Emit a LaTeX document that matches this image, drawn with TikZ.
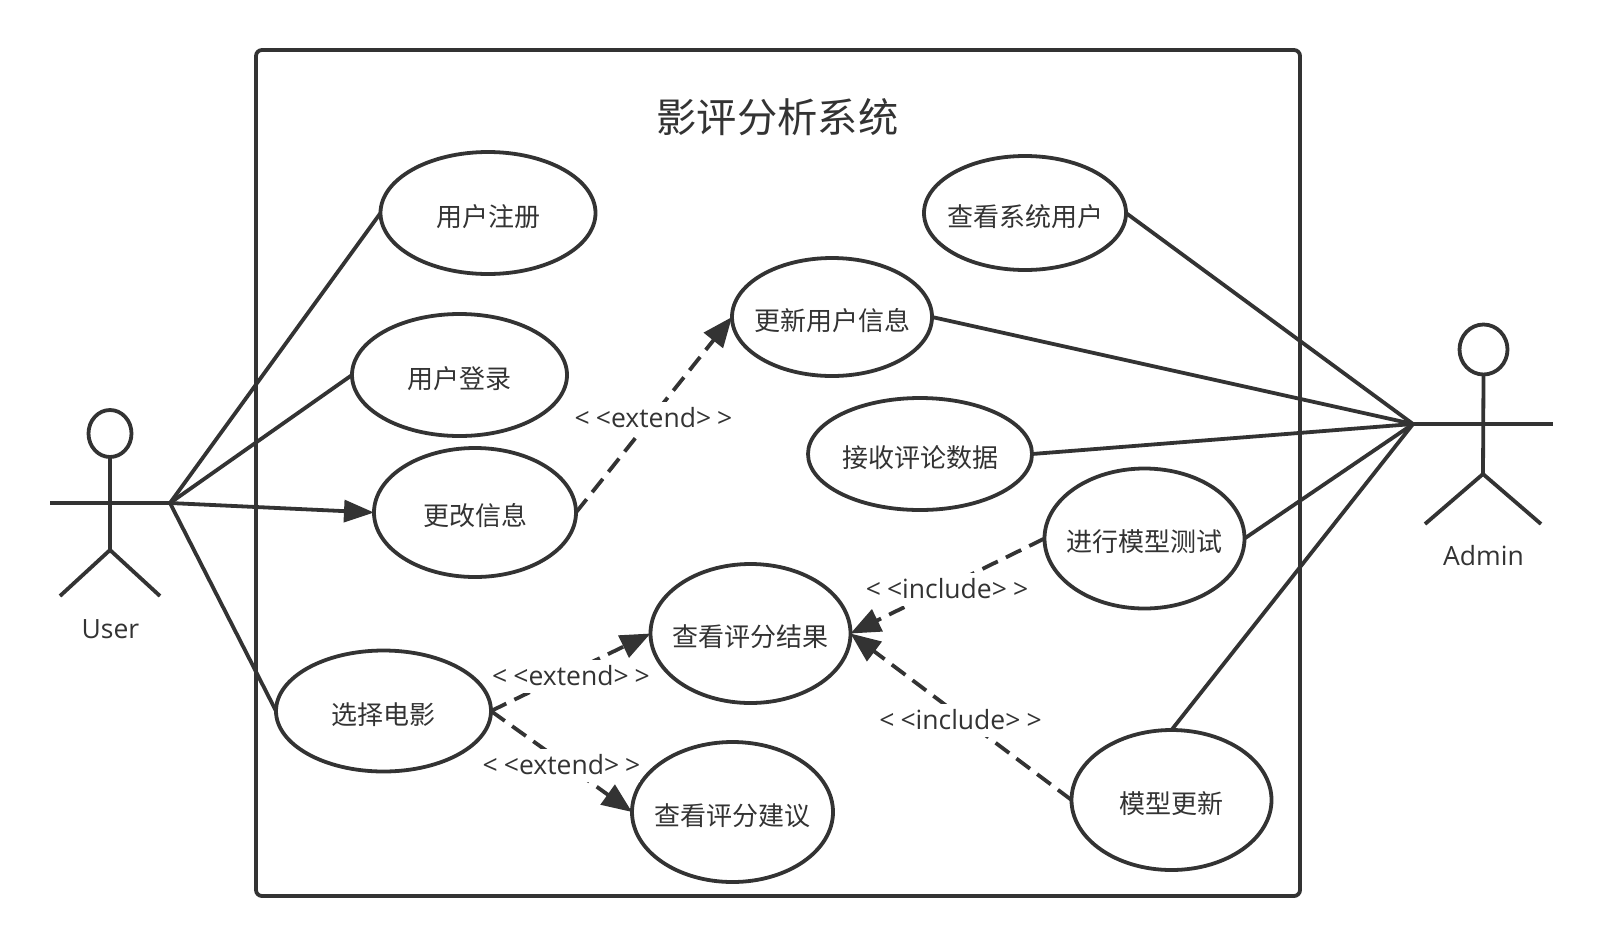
\documentclass[tikz,border=0pt]{standalone}
\usepackage{fontspec}
\setmainfont{Open Sans}
\newfontfamily\cjk{Noto Sans CJK SC}
\usetikzlibrary{arrows.meta,positioning,shapes.geometric}
\definecolor{ink}{HTML}{333333}

\begin{document}
\begin{tikzpicture}[x=1pt,y=-1pt,line width=3.8pt,draw=ink,text=ink,
        usecase/.style={ellipse,draw,inner xsep=-14pt,inner ysep=-6pt,outer sep=0pt,text height=30pt,text depth=4pt,font=\cjk\fontsize{26}{30}\selectfont},
        actorhead/.style={ellipse,draw,inner sep=0pt,outer sep=0pt},
        actorname/.style={font=\fontsize{26.5}{30}\selectfont},
        solidarrow/.style={-{Triangle[length=30pt,width=22pt]}},
        deparrow/.style={-{Triangle[length=30pt,width=24pt]},dash pattern=on 17pt off 9pt},
        deplabel/.style={fill=white,inner sep=0pt,minimum height=33pt,font=\fontsize{26.5}{30}\selectfont}]
    \useasboundingbox (0,0) rectangle (1603,946);

    \node [draw,rounded corners=6pt,minimum width=1044pt,minimum height=846pt,inner sep=0pt,outer sep=0pt] (sys) at (778,473) {};
    \node [font=\cjk\fontsize{40.3}{46}\selectfont] (title) at (777.5,117) {影评分析系统};

    \node [usecase,minimum width=215pt,minimum height=122pt] (register) at (488,213) {用户注册};
    \node [usecase,minimum width=215pt,minimum height=122pt] (login) at (459.5,375) {用户登录};
    \node [usecase,minimum width=202pt,minimum height=129pt] (change) at (475,512.5) {更改信息};
    \node [usecase,minimum width=215pt,minimum height=121pt] (movie) at (383.5,711) {选择电影};
    \node [usecase,minimum width=202pt,minimum height=114pt] (users) at (1025,213) {查看系统用户};
    \node [usecase,minimum width=200pt,minimum height=118pt] (update) at (832,317) {更新用户信息};
    \node [usecase,minimum width=224pt,minimum height=112pt] (receive) at (920,454) {接收评论数据};
    \node [usecase,minimum width=200pt,minimum height=140pt] (test) at (1144.5,538.5) {进行模型测试};
    \node [usecase,minimum width=200pt,minimum height=139pt] (result) at (750.5,633.5) {查看评分结果};
    \node [usecase,minimum width=201pt,minimum height=140pt] (advice) at (732.5,812) {查看评分建议};
    \node [usecase,minimum width=200pt,minimum height=140pt] (retrain) at (1171.5,800) {模型更新};

    \node [actorhead,minimum width=43pt,minimum height=47pt] (uhead) at (110,433.5) {};
    \coordinate (uleft) at (50,503);
    \coordinate (uright) at (170,503);
    \coordinate (uhip) at (110,550);
    \coordinate (ufootl) at (60,596);
    \coordinate (ufootr) at (160,596);
    \node [actorname] (uname) at (110.5,629) {User};
    \draw (uhead.south) -- (uhip);
    \draw (uleft) -- (uright);
    \draw (ufootl) -- (uhip) -- (ufootr);

    \node [actorhead,minimum width=48pt,minimum height=50pt] (ahead) at (1483.5,349.5) {};
    \coordinate (aleft) at (1413,424);
    \coordinate (aright) at (1553,424);
    \coordinate (ahip) at (1483,474);
    \coordinate (afootl) at (1425,524);
    \coordinate (afootr) at (1541,524);
    \node [actorname] (aname) at (1483.5,556) {Admin};
    \draw (ahead.south) -- (ahip);
    \draw (aleft) -- (aright);
    \draw (afootl) -- (ahip) -- (afootr);

    \draw (uright) -- (register.west);
    \draw (uright) -- (login.west);
    \draw [solidarrow] (uright) -- (change.west);
    \draw (uright) -- (movie.west);

    \draw (aleft) -- (users.east);
    \draw (aleft) -- (update.east);
    \draw (aleft) -- (receive.east);
    \draw (aleft) -- (test.east);
    \draw (aleft) -- (retrain.north);

    \draw [deparrow] (change.east) -- (update.west);
    \draw [deparrow] (movie.east) -- (result.west);
    \draw [deparrow] (movie.east) -- (advice.west);
    \draw [deparrow] (test.west) -- (result.east);
    \draw [deparrow] (retrain.west) -- (result.east);

    \node [deplabel] (lbchange) at (653.5,418) {<\kern6pt<extend>\kern6pt>};
    \node [deplabel] (lbresult) at (571,676) {<\kern6pt<extend>\kern6pt>};
    \node [deplabel] (lbadvice) at (561.5,765) {<\kern6pt<extend>\kern6pt>};
    \node [deplabel] (lbtest) at (947,589) {<\kern6pt<include>\kern6pt>};
    \node [deplabel] (lbretrain) at (960.5,720) {<\kern6pt<include>\kern6pt>};
    \end{tikzpicture}
\end{document}
